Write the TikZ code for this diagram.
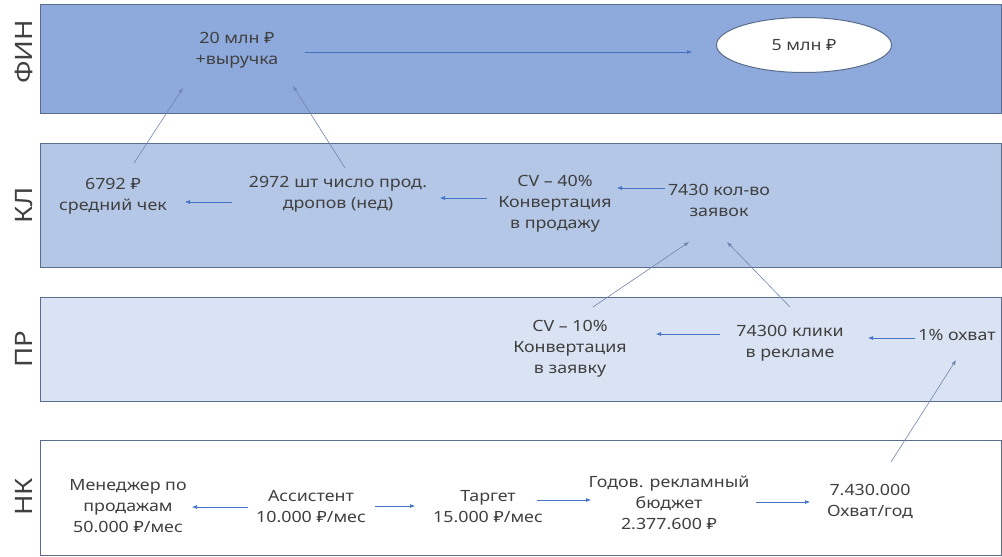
\documentclass[tikz,border=0pt]{standalone}
\usepackage{fontspec}
\setmainfont[FakeStretch=1.15]{Noto Sans}
\usetikzlibrary{shapes.geometric,arrows.meta}
\definecolor{finfill}{HTML}{8EA9DB}
\definecolor{klfill}{HTML}{B4C7E7}
\definecolor{prfill}{HTML}{DAE3F3}
\definecolor{laneline}{HTML}{5A6E8C}
\definecolor{txt}{HTML}{404040}
\definecolor{arr}{HTML}{4472C4}
\definecolor{uparr}{HTML}{6F86B0}
\begin{document}
\begin{tikzpicture}
[every node/.style={inner sep=0pt},
 lane/.style={draw=laneline, line width=1pt},
 lanelabel/.style={rotate=90, font=\fontsize{24}{26}\selectfont, text=txt},
 val/.style={align=center, font=\fontsize{15.5}{21}\selectfont, text=txt},
 flow/.style={draw=arr, line width=0.6pt, -{Latex[length=5pt,width=4pt]}},
 upflow/.style={draw=uparr, line width=0.6pt, -{Latex[length=5pt,width=4pt]}}]
\useasboundingbox (0pt, 0pt) rectangle (1002pt, -557pt);
% lanes
\draw [lane, fill=finfill] (40pt, -4pt) rectangle (1001pt, -113pt);
\draw [lane, fill=klfill] (40pt, -143pt) rectangle (1001pt, -267pt);
\draw [lane, fill=prfill] (40pt, -297pt) rectangle (1001pt, -401pt);
\draw [lane, fill=white] (40pt, -440pt) rectangle (1001pt, -555pt);
\node (fin) [lanelabel] at (24pt, -52pt) {ФИН};
\node (kl) [lanelabel] at (24pt, -205pt) {КЛ};
\node (pr) [lanelabel] at (24pt, -349pt) {ПР};
\node (nk) [lanelabel] at (24pt, -497pt) {НК};
% ФИН
\node (revenue) [val] at (237pt, -50pt) {20 млн ₽\\+выручка};
\node (goal) [ellipse, draw=laneline, fill=white, line width=1pt, minimum width=175pt, minimum height=55pt, font=\fontsize{15.5}{21}\selectfont, text=txt] at (804pt, -45pt) {5 млн ₽};
% КЛ
\node (check) [val] at (113pt, -196pt) {6792 ₽\\средний чек};
\node (drops) [val] at (338pt, -194pt) {2972 шт число прод.\\дропов (нед)};
\node (cvsale) [val] at (555pt, -204pt) {CV – 40\%\\Конвертация\\в продажу};
\node (orders) [val] at (719pt, -200pt) {7430 кол-во\\заявок};
% ПР
\node (cvorder) [val] at (570pt, -349pt) {CV – 10\%\\Конвертация\\в заявку};
\node (clicks) [val] at (790pt, -343pt) {74300 клики\\в рекламе};
\node (reach) [val] at (957pt, -335pt) {1\% охват};
% НК
\node (manager) [val] at (128pt, -506pt) {Менеджер по\\продажам\\50.000 ₽/мес};
\node (assist) [val] at (311pt, -507pt) {Ассистент\\10.000 ₽/мес};
\node (target) [val] at (488pt, -507pt) {Таргет\\15.000 ₽/мес};
\node (budget) [val] at (669pt, -503pt) {Годов. рекламный\\бюджет\\2.377.600 ₽};
\node (yearreach) [val] at (870pt, -501pt) {7.430.000\\Охват/год};
% connectors
\draw [flow] ([shift={(68pt,-2pt)}]revenue.center) -- ([shift={(-112pt,-7pt)}]goal.center);
\draw [flow] ([shift={(-106pt,-8pt)}]drops.center) -- ([shift={(72pt,-6pt)}]check.center);
\draw [flow] ([shift={(-68pt,6pt)}]cvsale.center) -- ([shift={(102pt,-4pt)}]drops.center);
\draw [flow] ([shift={(-54pt,12pt)}]orders.center) -- ([shift={(62pt,16pt)}]cvsale.center);
\draw [upflow] ([shift={(21pt,33pt)}]check.center) -- ([shift={(-54pt,-38pt)}]revenue.center);
\draw [upflow] ([shift={(7pt,26pt)}]drops.center) -- ([shift={(56pt,-36pt)}]revenue.center);
\draw [upflow] ([shift={(23pt,42pt)}]cvorder.center) -- ([shift={(-30pt,-42pt)}]orders.center);
\draw [upflow] ([shift={(0pt,36pt)}]clicks.center) -- ([shift={(8pt,-42pt)}]orders.center);
\draw [flow] ([shift={(-70pt,9pt)}]clicks.center) -- ([shift={(86pt,15pt)}]cvorder.center);
\draw [flow] ([shift={(-42pt,-3pt)}]reach.center) -- ([shift={(78pt,5pt)}]clicks.center);
\draw [flow] ([shift={(-63pt,0pt)}]assist.center) -- ([shift={(64pt,-1pt)}]manager.center);
\draw [flow] ([shift={(64pt,1pt)}]assist.center) -- ([shift={(-73pt,1pt)}]target.center);
\draw [flow] ([shift={(49pt,7pt)}]target.center) -- ([shift={(-78pt,3pt)}]budget.center);
\draw [flow] ([shift={(87pt,1pt)}]budget.center) -- ([shift={(-60pt,-1pt)}]yearreach.center);
\draw [upflow] ([shift={(21pt,39pt)}]yearreach.center) -- ([shift={(-1pt,-25pt)}]reach.center);
\end{tikzpicture}
\end{document}
